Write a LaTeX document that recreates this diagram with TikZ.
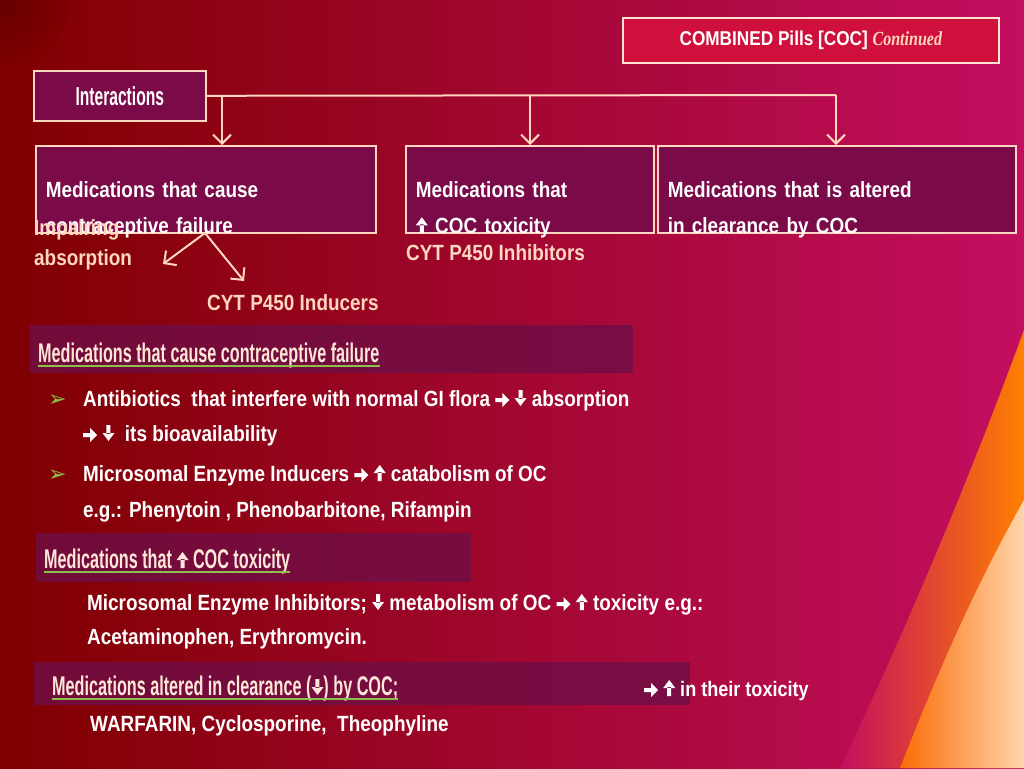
\documentclass[tikz,border=0pt]{standalone}
\usepackage{fontspec}
\setmainfont{Liberation Sans}[FakeStretch=0.86]
\newfontfamily\headfont{Liberation Sans}[FakeStretch=0.6]
\newfontfamily\cursivefont{Liberation Serif}[FakeStretch=0.8]
\newfontfamily\symfont{DejaVu Sans}
\usetikzlibrary{arrows.meta,positioning}

\definecolor{peach}{HTML}{FFD6BE}
\definecolor{boxfill}{HTML}{7A0A48}
\definecolor{barfill}{HTML}{6E0E46}
\definecolor{ulgreen}{HTML}{8CC04A}

% small block arrows used inside the text
\newcommand\uarr{\tikz[baseline=0pt,x=1pt,y=1pt]\fill (-2,0) rectangle (2,9) (-6,8)--(6,8)--(0,16)--cycle;}
\newcommand\darr{\tikz[baseline=0pt,x=1pt,y=1pt]\fill (-2,16) rectangle (2,7) (-6,8)--(6,8)--(0,0)--cycle;}
\newcommand\rarr{\tikz[baseline=-6pt,x=1pt,y=1pt]\fill (0,-2) rectangle (8,2) (7,-7)--(7,7)--(14,0)--cycle;}

\tikzset{
  medbox/.style={draw=peach, line width=1.6pt, fill=boxfill, text=white, font=\fontsize{22}{36}\selectfont\bfseries,
    align=left, anchor=north west, inner sep=0pt, minimum height=87pt, text depth=0pt},
  txt/.style={anchor=base west, inner sep=0pt, text=white, font=\fontsize{22}{34}\selectfont\bfseries, align=left},
  lbl/.style={txt, text=peach},
  headtxt/.style={anchor=base west, inner sep=0pt, text=peach!60!white, font=\fontsize{27}{30}\selectfont\bfseries\headfont},
  headbar/.style={fill=barfill, fill opacity=0.8, draw=none},
  uline/.style={draw=ulgreen, line width=1.6pt},
  link/.style={draw=peach, line width=2pt},
  tip/.style={link, -{Straight Barb[length=9pt,width=18pt,line width=2pt]}},
}

\begin{document}
\begin{tikzpicture}[x=1pt,y=-1pt]
\useasboundingbox (0,0) rectangle (1024,768);
% background
\shade[left color=red!50!black, right color={rgb,255:red,196;green,14;blue,96}] (0,0) rectangle (1024,768);
\shade[inner color=black!70!red, outer color=red!50!black, opacity=0.5] (0,0) circle (70);
\shade[left color={rgb,255:red,196;green,14;blue,96}, right color=orange] (840,768) .. controls (920,600) and (980,450) .. (1024,330) -- (1024,768) -- cycle;
\shade[left color=orange!90!red, right color=orange!25!white, opacity=0.9] (900,768) .. controls (950,640) and (990,560) .. (1024,500) -- (1024,768) -- cycle;

% title
\node[draw=peach!70!white, line width=1.6pt, fill={rgb,255:red,208;green,16;blue,60}, text=white,
  font=\fontsize{20}{24}\selectfont\bfseries, minimum width=376pt, minimum height=45pt, anchor=north west]
  (title) at (622,17) {COMBINED Pills [COC] {\cursivefont\itshape\color{peach} Continued}};

% tree
\node[draw=peach, line width=1.6pt, fill=boxfill, text=white, font=\fontsize{26}{30}\selectfont\bfseries\headfont,
  minimum width=172pt, minimum height=50pt, anchor=north west] (inter) at (33,70) {Interactions};
\node[medbox, text width=320pt, inner xsep=10pt, minimum width=332pt] (fail) at (35,145) {Medications that cause\\contraceptive failure};
\node[medbox, text width=228pt, inner xsep=10pt, minimum width=240pt] (tox) at (405,145) {Medications that\\\uarr\ COC toxicity};
\node[medbox, text width=338pt, inner xsep=10pt, minimum width=350pt] (clear) at (657,145) {Medications that is altered\\in clearance by COC};

\coordinate (j1) at (222,95);
\coordinate (j2) at (530,95);
\coordinate (j3) at (836,95);
\draw[link] (inter.east) -- (j3);
\draw[tip] (j1) -- (j1 |- fail.north);
\draw[tip] (j2) -- (j2 |- tox.north);
\draw[tip] (j3) -- (j3 |- clear.north);

\node[lbl, font=\fontsize{22}{30}\selectfont\bfseries] (impair) at (34,265) {Impairing\\absorption};
\node[lbl] (induc) at (207,310) {CYT P450 Inducers};
\node[lbl] (inhib) at (406,260) {CYT P450 Inhibitors};
\coordinate (fork) at (205,233);
\draw[tip] (fork) -- (163,264);
\draw[tip] (fork) -- (244,281);

% section 1
\fill[headbar] (30,325) rectangle (633,373);
\node[headtxt] (h1) at (38,362) {Medications that cause contraceptive failure};
\draw[uline] ([yshift=-4pt]h1.base west) -- ([yshift=-4pt]h1.base east);
\node[txt, text=ulgreen] (b1) at (48,406) {\symfont ➢};
\node[txt] (t1) at (83,406) {Antibiotics\ \ that interfere with normal GI flora \rarr\ \darr\ absorption};
\node[txt] (t1b) at (83,441) {\rarr\ \darr\ \ its bioavailability};
\node[txt, text=ulgreen] (b2) at (48,481) {\symfont ➢};
\node[txt] (t2) at (83,481) {Microsomal Enzyme Inducers \rarr\ \uarr\ catabolism of OC};
\node[txt] (t2b) at (83,517) {e.g.: Phenytoin , Phenobarbitone, Rifampin};

% section 2
\fill[headbar] (36,533) rectangle (471,582);
\node[headtxt] (h2) at (44,568) {Medications that {\normalfont\bfseries\uarr} COC toxicity};
\draw[uline] ([yshift=-4pt]h2.base west) -- ([yshift=-4pt]h2.base east);
\node[txt] (t3) at (87,610) {Microsomal Enzyme Inhibitors; \darr\ metabolism of OC \rarr\ \uarr\ toxicity e.g.:};
\node[txt] (t3b) at (87,644) {Acetaminophen, Erythromycin.};

% section 3
\fill[headbar] (34,662) rectangle (690,705);
\node[headtxt] (h3) at (52,695) {Medications altered in clearance ({\normalfont\bfseries\darr}) by COC;};
\draw[uline] ([yshift=-4pt]h3.base west) -- ([yshift=-4pt]h3.base east);
\node[txt, font=\fontsize{21}{30}\selectfont\bfseries] (t4) at (644,696) {\rarr\ \uarr\ in their toxicity};
\node[txt] (t4b) at (90,731) {WARFARIN, Cyclosporine,\ \ Theophyline};
\end{tikzpicture}
\end{document}
